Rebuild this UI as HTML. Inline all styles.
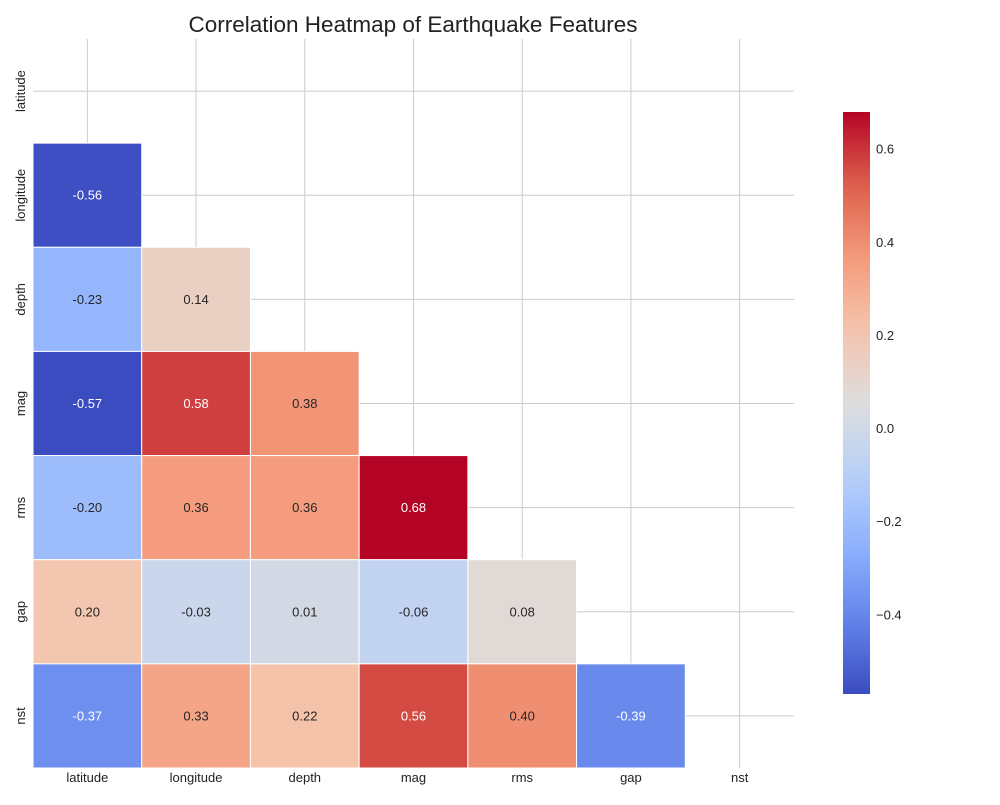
<!DOCTYPE html>
<html><head><meta charset="utf-8">
<style>
body{margin:0;background:#fff;font-family:"Liberation Sans",Arial,sans-serif;}
svg text{font-family:"Liberation Sans",Arial,sans-serif;}
</style></head>
<body>
<svg id="chart" width="1000" height="800" xmlns="http://www.w3.org/2000/svg">
<rect width="1000" height="800" fill="#fff"/>
<text x="413" y="32" text-anchor="middle" font-size="22.5" fill="#222">Correlation Heatmap of Earthquake Features</text>
<g id="grid"></g><g id="cells"></g><g id="labels"></g><g id="cbar"></g>
</svg>
<script>
const features = ["latitude","longitude","depth","mag","rms","gap","nst"];
const corrRows = [
  [],
  [-0.56],
  [-0.23, 0.14],
  [-0.57, 0.58, 0.38],
  [-0.20, 0.36, 0.36, 0.68],
  [0.20, -0.03, 0.01, -0.06, 0.08],
  [-0.37, 0.33, 0.22, 0.56, 0.40, -0.39]
];
const cbarTicks = [0.6, 0.4, 0.2, 0.0, -0.2, -0.4];
const NS="http://www.w3.org/2000/svg";
const X0=33,X1=794,Y0=39,Y1=768;
const n=features.length, cw=(X1-X0)/n, ch=(Y1-Y0)/n;
let vmin=Infinity,vmax=-Infinity;
corrRows.forEach(r=>r.forEach(v=>{vmin=Math.min(vmin,v);vmax=Math.max(vmax,v);}));
const stops=[[59,76,192],[98,130,234],[141,176,254],[184,208,249],[221,221,221],[245,196,173],[244,154,123],[222,96,77],[180,4,38]];
function cmap(v){let t=(v-vmin)/(vmax-vmin);t=Math.max(0,Math.min(1,t));const p=t*8,i=Math.min(7,Math.floor(p)),f=p-i;
 return stops[i].map((c,k)=>Math.round(c+(stops[i+1][k]-c)*f));}
function lum(c){const l=c.map(x=>{x/=255;return x<=0.03928?x/12.92:Math.pow((x+0.055)/1.055,2.4)});return 0.2126*l[0]+0.7152*l[1]+0.0722*l[2];}
function mk(tag,attrs,parent){const e=document.createElementNS(NS,tag);for(const k in attrs)e.setAttribute(k,attrs[k]);document.getElementById(parent).appendChild(e);return e;}
const xc=i=>X0+(i+0.5)*cw, yc=i=>Y0+(i+0.5)*ch;
for(let i=0;i<n;i++){
  let l=mk('line',{x1:xc(i),x2:xc(i),y1:Y0,y2:Y1,stroke:'#cccccc','stroke-width':1},'grid');
  
  
  l=mk('line',{x1:X0,x2:X1,y1:yc(i),y2:yc(i),stroke:'#cccccc','stroke-width':1},'grid');
  
  
  let t=mk('text',{x:xc(i),y:Y1+14,'text-anchor':'middle','font-size':13,fill:'#222'},'labels');t.textContent=features[i];
  
  
  t=mk('text',{x:0,y:0,'text-anchor':'middle','font-size':13,fill:'#222',transform:`translate(25,${yc(i)}) rotate(-90)`},'labels');t.textContent=features[i];
  
  
}
corrRows.forEach((row,r)=>row.forEach((v,c)=>{
  const col=cmap(v);
  const rc=mk('rect',{x:X0+c*cw,y:Y0+r*ch,width:cw,height:ch,fill:`rgb(${col})`,stroke:'#fff','stroke-width':1},'cells');
  
  
  const t=mk('text',{x:xc(c),y:yc(r)+4.5,'text-anchor':'middle','font-size':13,fill:lum(col)>0.33?'#262626':'#ffffff'},'cells');
  t.textContent=v.toFixed(2);
  
  
}));
const CX=843,CW=27,CT=112,CB=694;
const cy=v=>CB-(v-vmin)/(vmax-vmin)*(CB-CT);
const defs=mk('defs',{},'cbar');
const g=document.createElementNS(NS,'linearGradient');g.setAttribute('id','cg');g.setAttribute('x1','0');g.setAttribute('y1','1');g.setAttribute('x2','0');g.setAttribute('y2','0');defs.appendChild(g);
for(let k=0;k<=20;k++){const v=vmin+(vmax-vmin)*k/20;const s=document.createElementNS(NS,'stop');s.setAttribute('offset',k/20);s.setAttribute('stop-color',`rgb(${cmap(v)})`);g.appendChild(s);}
const cb=mk('rect',{x:CX,y:CT,width:CW,height:CB-CT,fill:'url(#cg)'},'cbar');


cbarTicks.forEach(v=>{
  const t=mk('text',{x:CX+CW+6,y:cy(v)+4.5,'font-size':13,fill:'#222'},'cbar');
  t.textContent=(v<0?'\u2212':'')+Math.abs(v).toFixed(1);
  
  
});
</script>
</body></html>
